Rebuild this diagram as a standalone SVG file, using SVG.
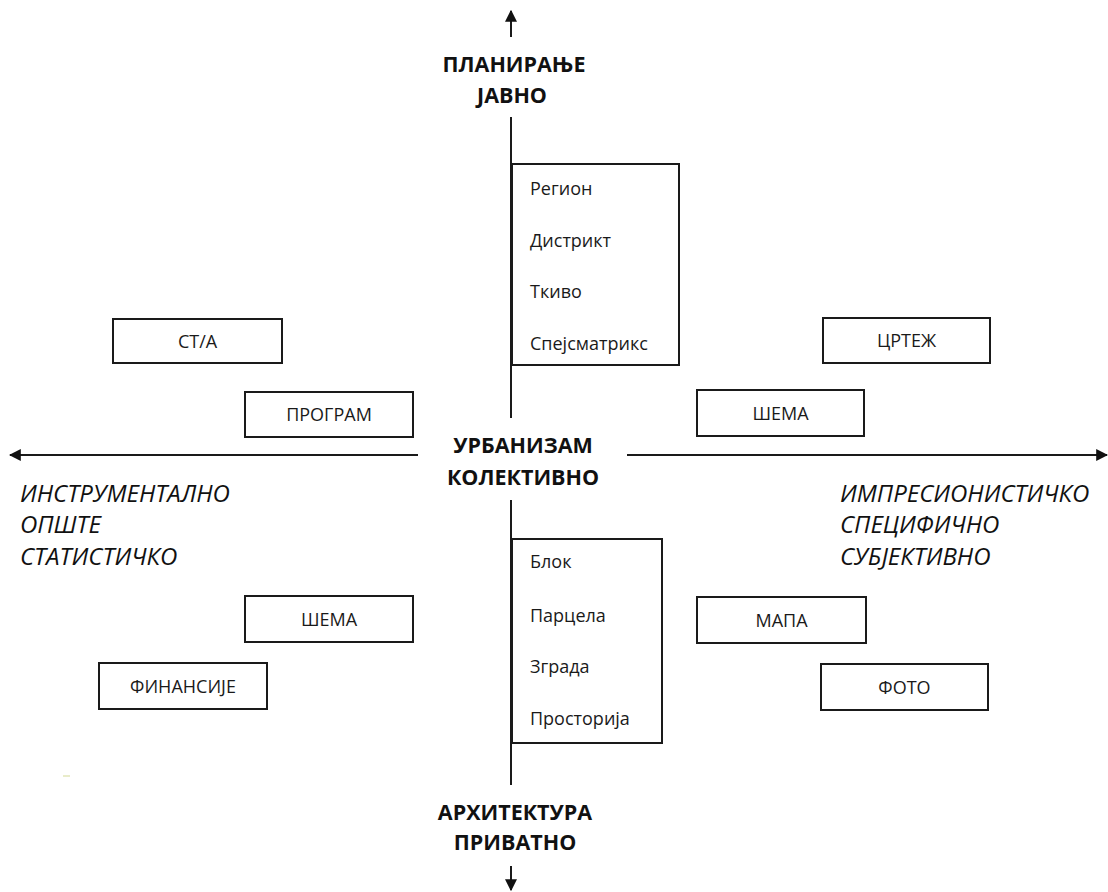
<svg xmlns="http://www.w3.org/2000/svg" width="1108" height="892" viewBox="0 0 1108 892">
<defs>
<style>
.ax{stroke:#1a1a1a;stroke-width:2;fill:none}
.bx{fill:#fff;stroke:#1a1a1a;stroke-width:2}
.t{font-family:"Open Sans","Liberation Sans",sans-serif;font-size:18px;fill:#1a1a1a}
.c{text-anchor:middle}
.h{font-family:"Open Sans","Liberation Sans",sans-serif;font-size:21.5px;font-weight:bold;fill:#111;text-anchor:middle}
.i{font-family:"Open Sans","Liberation Sans",sans-serif;font-size:24px;font-style:italic;fill:#111}
</style>
<marker id="ar" viewBox="0 0 10 10" refX="9" refY="5" markerWidth="6" markerHeight="6" orient="auto" markerUnits="strokeWidth">
<path d="M0,0 L10,5 L0,10 z" fill="#111"/>
</marker>
</defs>
<rect width="1108" height="892" fill="#fff"/>
<g id="connectors">
<line class="ax" x1="511" y1="37" x2="511" y2="11" marker-end="url(#ar)"/>
<line class="ax" x1="511" y1="117" x2="511" y2="418"/>
<line class="ax" x1="511" y1="500" x2="511" y2="785"/>
<line class="ax" x1="511" y1="866" x2="511" y2="890" marker-end="url(#ar)"/>
<line class="ax" x1="418" y1="455" x2="10" y2="455" marker-end="url(#ar)"/>
<line class="ax" x1="627" y1="455" x2="1107" y2="455" marker-end="url(#ar)"/>
</g>
<g id="label-top">
<text class="h" x="514" y="72">ПЛАНИРАЊЕ</text>
<text class="h" x="512" y="103">ЈАВНО</text>
</g>
<g id="label-center">
<text class="h" x="523" y="453">УРБАНИЗАМ</text>
<text class="h" x="523" y="485">КОЛЕКТИВНО</text>
</g>
<g id="label-bottom">
<text class="h" x="515" y="820">АРХИТЕКТУРА</text>
<text class="h" x="515" y="850">ПРИВАТНО</text>
</g>
<g id="label-left">
<text class="i" x="20" y="502">ИНСТРУМЕНТАЛНО</text>
<text class="i" x="20" y="533">ОПШТЕ</text>
<text class="i" x="20" y="565">СТАТИСТИЧКО</text>
</g>
<g id="label-right">
<text class="i" x="840" y="502">ИМПРЕСИОНИСТИЧКО</text>
<text class="i" x="840" y="533">СПЕЦИФИЧНО</text>
<text class="i" x="840" y="565">СУБЈЕКТИВНО</text>
</g>
<g id="scale-upper">
<rect class="bx" x="512" y="164" width="167" height="201"/>
<text class="t" x="530" y="195">Регион</text>
<text class="t" x="530" y="247">Дистрикт</text>
<text class="t" x="530" y="298">Ткиво</text>
<text class="t" x="530" y="350">Спејсматрикс</text>
</g>
<g id="scale-lower">
<rect class="bx" x="512" y="539" width="150" height="204"/>
<text class="t" x="530" y="568">Блок</text>
<text class="t" x="530" y="622">Парцела</text>
<text class="t" x="530" y="673">Зграда</text>
<text class="t" x="530" y="725">Просторија</text>
</g>
<g id="node-sta"><rect class="bx" x="113" y="319" width="169" height="44"/><text class="t c" x="197.5" y="348">СТ/А</text></g>
<g id="node-program"><rect class="bx" x="245" y="392" width="168" height="45"/><text class="t c" x="329" y="421">ПРОГРАМ</text></g>
<g id="node-crtez"><rect class="bx" x="823" y="318" width="167" height="45"/><text class="t c" x="906.5" y="347">ЦРТЕЖ</text></g>
<g id="node-shema-r"><rect class="bx" x="697" y="390" width="167" height="46"/><text class="t c" x="780.5" y="420">ШЕМА</text></g>
<g id="node-shema-l"><rect class="bx" x="245" y="596" width="168" height="46"/><text class="t c" x="329" y="626">ШЕМА</text></g>
<g id="node-finansije"><rect class="bx" x="99" y="663" width="168" height="46"/><text class="t c" x="183" y="693">ФИНАНСИЈЕ</text></g>
<g id="node-mapa"><rect class="bx" x="697" y="597" width="169" height="46"/><text class="t c" x="781.5" y="627">МАПА</text></g>
<g id="node-foto"><rect class="bx" x="821" y="664" width="167" height="46"/><text class="t c" x="904.5" y="694">ФОТО</text></g>
<line x1="63" y1="776" x2="70" y2="776" stroke="#e2e6b8" stroke-width="1.5"/>
</svg>
